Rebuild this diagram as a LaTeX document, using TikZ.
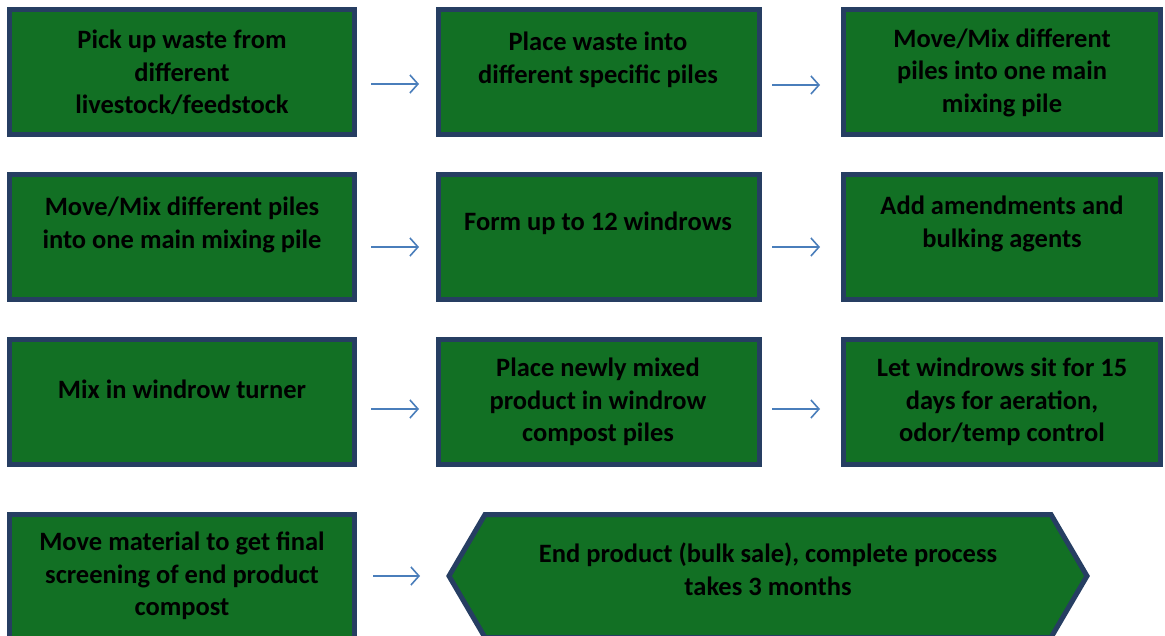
\documentclass[tikz,border=0pt]{standalone}
\usepackage{fontspec}
\setmainfont{Carlito}
\usetikzlibrary{arrows.meta}
\definecolor{boxgreen}{RGB}{18,112,36}
\definecolor{boxedge}{RGB}{38,62,98}
\definecolor{arrowblue}{RGB}{74,126,187}
\begin{document}
\begin{tikzpicture}[x=1pt,y=-1pt,
  stepbox/.style={draw=boxedge,fill=boxgreen,line width=5pt},
  lbl/.style={font=\fontsize{26.5}{32.5}\selectfont\bfseries,align=center,text=black,inner sep=0pt},
  flow/.style={draw=arrowblue,line width=1.6pt,-{Straight Barb[length=8pt,width=18pt,line width=1.6pt]}}]
\useasboundingbox (0,0) rectangle (1165,636);
% boxes
\path[stepbox] (9.5,9.5) rectangle (354.5,134.5);
\path[stepbox] (438.5,9.5) rectangle (759.5,134.5);
\path[stepbox] (843.5,9.5) rectangle (1160.5,134.5);
\path[stepbox] (9.5,174.5) rectangle (354.5,299.5);
\path[stepbox] (438.5,174.5) rectangle (759.5,299.5);
\path[stepbox] (843.5,174.5) rectangle (1160.5,299.5);
\path[stepbox] (9.5,339.5) rectangle (354.5,464.5);
\path[stepbox] (438.5,339.5) rectangle (759.5,464.5);
\path[stepbox] (843.5,339.5) rectangle (1160.5,464.5);
\path[stepbox] (9.5,514.5) rectangle (354.5,639.5);
\path[stepbox] (485,514.5) -- (1051,514.5) -- (1087,576) -- (1051,637.5) -- (485,637.5) -- (449,576) -- cycle;
% labels
\node[lbl] (t1) at (182,72.5) {Pick up waste from\\different\\livestock/feedstock};
\node[lbl] (t2) at (598,60) {Place waste into\\different specific piles};
\node[lbl] (t3) at (1002,72.5) {Move/Mix different\\piles into one main\\mixing pile};
\node[lbl] (t4) at (182,225) {Move/Mix different piles\\into one main mixing pile};
\node[lbl] (t5) at (598,223) {Form up to 12 windrows};
\node[lbl] (t6) at (1002,224) {Add amendments and\\bulking agents};
\node[lbl] (t7) at (182,389) {Mix in windrow turner};
\node[lbl] (t8) at (598,402) {Place newly mixed\\product in windrow\\compost piles};
\node[lbl] (t9) at (1002,402) {Let windrows sit for 15\\days for aeration,\\odor/temp control};
\node[lbl] (t10) at (182,576) {Move material to get final\\screening of end product\\compost};
\node[lbl] (t11) at (768,569.5) {End product (bulk sale), complete process\\takes 3 months};
% arrows
\coordinate (a1s) at (371,84); \coordinate (a1e) at (419,84);
\coordinate (a2s) at (772,85); \coordinate (a2e) at (820,85);
\coordinate (a3s) at (371,247); \coordinate (a3e) at (419,247);
\coordinate (a4s) at (772,247); \coordinate (a4e) at (820,247);
\coordinate (a5s) at (371,409); \coordinate (a5e) at (419,409);
\coordinate (a6s) at (772,409); \coordinate (a6e) at (820,409);
\coordinate (a7s) at (373,576); \coordinate (a7e) at (420,576);
\foreach \i in {1,...,7} {\draw[flow] (a\i s) -- (a\i e);}
\end{tikzpicture}
\end{document}
